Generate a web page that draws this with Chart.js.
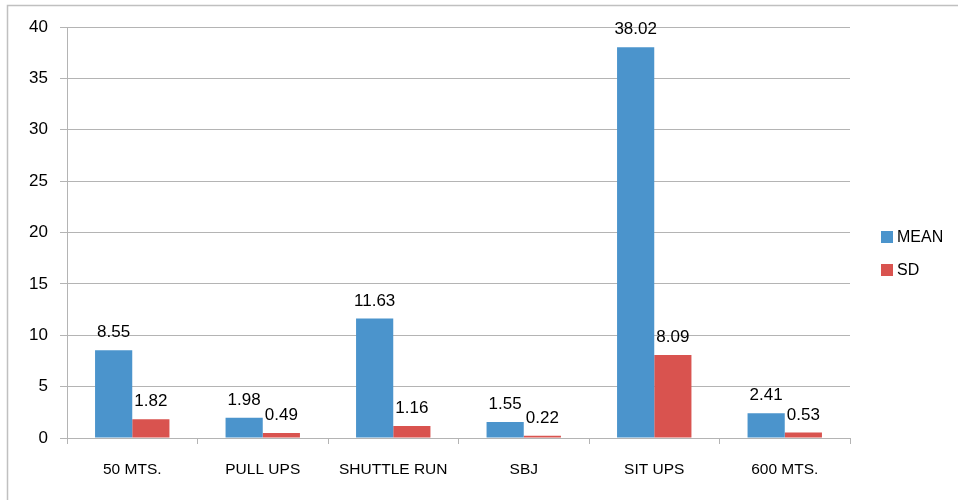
<!DOCTYPE html>
<html>
<head>
<meta charset="utf-8">
<script src="https://cdn.jsdelivr.net/npm/chart.js@4"></script>
<style>
  html, body { margin: 0; padding: 0; background: #fff; }
  #wrap { width: 958px; height: 500px; position: relative; }
</style>
</head>
<body>
<div id="wrap"><canvas id="c" width="958" height="500"></canvas></div>
<script>
// Fitness test results: mean and standard deviation per test
const categories = ['50 MTS.', 'PULL UPS', 'SHUTTLE RUN', 'SBJ', 'SIT UPS', '600 MTS.'];
const meanValues = [8.55, 1.98, 11.63, 1.55, 38.02, 2.41];
const sdValues = [1.82, 0.49, 1.16, 0.22, 8.09, 0.53];
const yTicks = [0, 5, 10, 15, 20, 25, 30, 35, 40];

const FONT = '"Liberation Sans", Arial, sans-serif';
const TEXT = '#000';
const GRID = '#b4b4b4';
const BLUE = '#4b94cc';
const RED = '#d9534f';

// Outer frame (top and left edges)
const framePlugin = {
  id: 'frame',
  beforeDraw(chart) {
    const ctx = chart.ctx;
    ctx.save();
    ctx.fillStyle = '#fff';
    ctx.fillRect(0, 0, chart.width, chart.height);
    ctx.strokeStyle = '#c0c0c0';
    ctx.lineWidth = 1.5;
    ctx.beginPath();
    ctx.moveTo(7.5, chart.height);
    ctx.lineTo(7.5, 5.5);
    ctx.lineTo(chart.width, 5.5);
    ctx.stroke();
    ctx.restore();
  }
};

// Value labels above each bar
const valueLabels = {
  id: 'valueLabels',
  afterDatasetsDraw(chart) {
    const ctx = chart.ctx;
    ctx.save();
    ctx.font = '17px ' + FONT;
    ctx.fillStyle = TEXT;
    ctx.textAlign = 'center';
    ctx.textBaseline = 'alphabetic';
    chart.data.datasets.forEach((ds, di) => {
      chart.getDatasetMeta(di).data.forEach((bar, i) => {
        ctx.fillText(ds.data[i].toFixed(2), bar.x, bar.y - 13);
      });
    });
    ctx.restore();
  }
};

// Legend on the right side
const sideLegend = {
  id: 'sideLegend',
  afterDraw(chart) {
    const ctx = chart.ctx;
    ctx.save();
    ctx.font = '16px ' + FONT;
    ctx.textBaseline = 'middle';
    ctx.textAlign = 'left';
    const rows = [237, 270];
    chart.data.datasets.forEach((ds, i) => {
      const y = rows[i];
      ctx.fillStyle = ds.backgroundColor;
      ctx.fillRect(881, y - 6, 12, 12);
      ctx.fillStyle = TEXT;
      ctx.fillText(ds.label, 897, y + 1);
    });
    ctx.restore();
  }
};

new Chart(document.getElementById('c'), {
  type: 'bar',
  data: {
    labels: categories,
    datasets: [
      { label: 'MEAN', data: meanValues, backgroundColor: BLUE },
      { label: 'SD', data: sdValues, backgroundColor: RED }
    ]
  },
  options: {
    responsive: false,
    animation: false,
    devicePixelRatio: 1,
    layout: { padding: { top: 27, right: 108, left: 0, bottom: 0 } },
    datasets: { bar: { categoryPercentage: 0.57, barPercentage: 1.0 } },
    plugins: { legend: { display: false }, tooltip: { enabled: false } },
    scales: {
      x: {
        grid: { offset: true, drawOnChartArea: false, drawTicks: true, tickLength: 6, color: GRID },
        border: { color: GRID },
        ticks: { color: TEXT, font: { size: 15.5, family: FONT }, padding: 16, maxRotation: 0 },
        afterFit(s) { s.height = 62; }
      },
      y: {
        min: 0, max: 40,
        afterBuildTicks(s) { s.ticks = yTicks.map(v => ({ value: v })); },
        grid: { color: GRID, tickLength: 7 },
        border: { color: GRID },
        ticks: { color: TEXT, font: { size: 17, family: FONT }, padding: 12 },
        afterFit(s) { s.width = 67; }
      }
    }
  },
  plugins: [framePlugin, valueLabels, sideLegend]
});
</script>
</body>
</html>
